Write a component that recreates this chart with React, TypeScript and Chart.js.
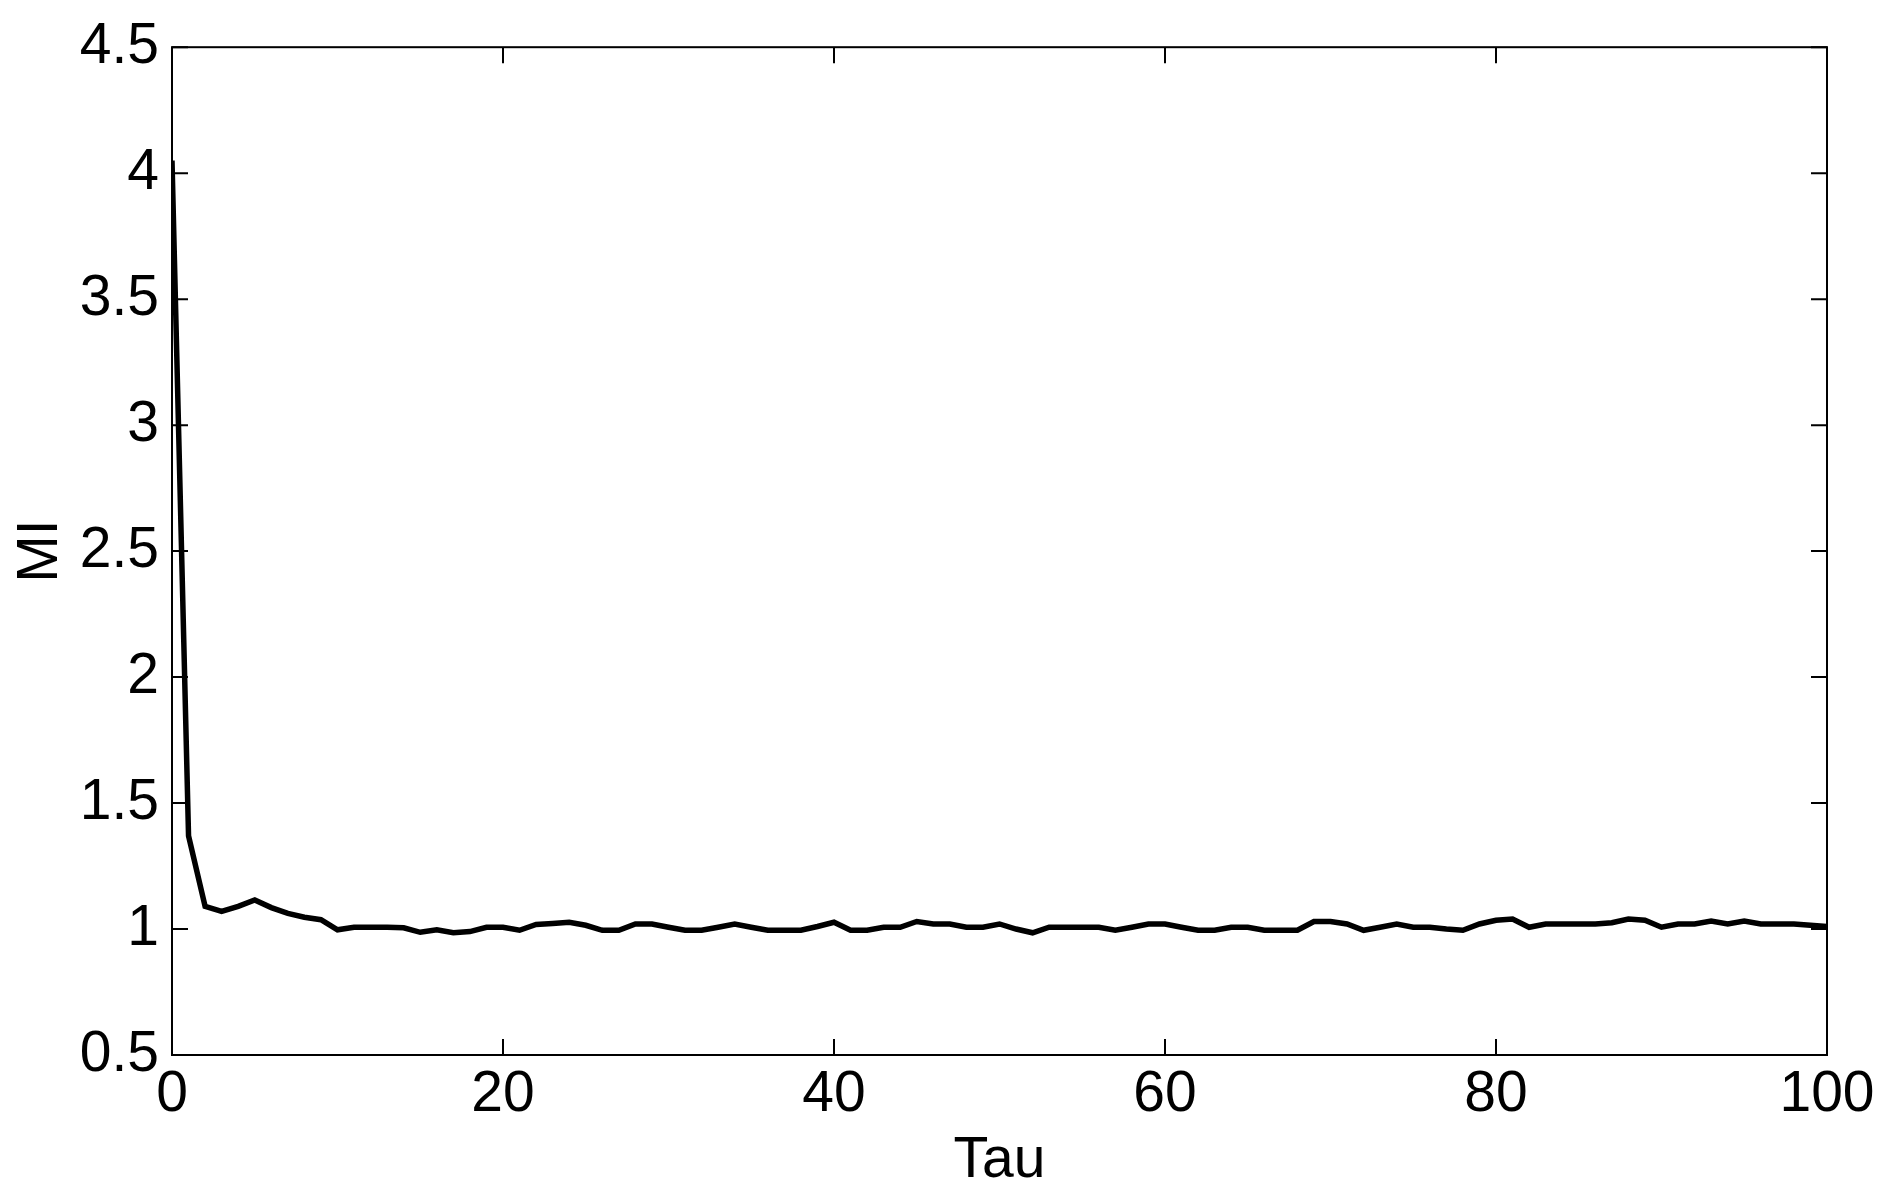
import React, { useEffect, useRef } from "react";
import { Chart, registerables } from "chart.js";

Chart.register(...registerables);

// Lag values (Tau)
const taus: number[] = [
  0, 1, 2, 3, 4, 5, 6, 7, 8, 9,
  10, 11, 12, 13, 14, 15, 16, 17, 18, 19,
  20, 21, 22, 23, 24, 25, 26, 27, 28, 29,
  30, 31, 32, 33, 34, 35, 36, 37, 38, 39,
  40, 41, 42, 43, 44, 45, 46, 47, 48, 49,
  50, 51, 52, 53, 54, 55, 56, 57, 58, 59,
  60, 61, 62, 63, 64, 65, 66, 67, 68, 69,
  70, 71, 72, 73, 74, 75, 76, 77, 78, 79,
  80, 81, 82, 83, 84, 85, 86, 87, 88, 89,
  90, 91, 92, 93, 94, 95, 96, 97, 98, 99,
  100,
];

// Mutual information
const miValues: number[] = [
  4.05, 1.37, 1.09, 1.07, 1.09, 1.115, 1.085, 1.062, 1.047, 1.037,
  0.997, 1.007, 1.007, 1.007, 1.005, 0.987, 0.997, 0.985, 0.99, 1.007,
  1.007, 0.995, 1.018, 1.022, 1.027, 1.015, 0.995, 0.995, 1.02, 1.02,
  1.007, 0.995, 0.995, 1.007, 1.02, 1.007, 0.995, 0.995, 0.995, 1.01,
  1.027, 0.995, 0.995, 1.007, 1.007, 1.03, 1.02, 1.02, 1.007, 1.007,
  1.02, 1.0, 0.985, 1.007, 1.007, 1.007, 1.007, 0.995, 1.007, 1.02,
  1.02, 1.007, 0.995, 0.995, 1.007, 1.007, 0.995, 0.995, 0.995, 1.03,
  1.03, 1.02, 0.995, 1.007, 1.02, 1.007, 1.007, 1.0, 0.995, 1.02,
  1.035, 1.04, 1.007, 1.02, 1.02, 1.02, 1.02, 1.025, 1.04, 1.035,
  1.007, 1.02, 1.02, 1.032, 1.02, 1.032, 1.02, 1.02, 1.02, 1.015,
  1.01,
];

const xTickValues: number[] = [0, 20, 40, 60, 80, 100];
const yTickValues: number[] = [0.5, 1, 1.5, 2, 2.5, 3, 3.5, 4, 4.5];
const xTitle = "Tau";
const yTitle = "MI";

const FONT_FAMILY = "'Liberation Sans', Arial, Helvetica, sans-serif";

const framePlugin = {
  id: "matlabFrame",
  beforeDatasetsDraw(chart: any) {
    const { ctx, chartArea, scales } = chart;
    const { left, right, top, bottom } = chartArea;
    const L = 16;
    ctx.save();
    ctx.strokeStyle = "#000";
    ctx.lineWidth = 2;
    ctx.strokeRect(left, top, right - left, bottom - top);
    ctx.beginPath();
    xTickValues.forEach((v) => {
      const px = scales.x.getPixelForValue(v);
      ctx.moveTo(px, bottom);
      ctx.lineTo(px, bottom - L);
      ctx.moveTo(px, top);
      ctx.lineTo(px, top + L);
    });
    yTickValues.forEach((v) => {
      const py = scales.y.getPixelForValue(v);
      ctx.moveTo(left, py);
      ctx.lineTo(left + L, py);
      ctx.moveTo(right, py);
      ctx.lineTo(right - L, py);
    });
    ctx.stroke();
    ctx.restore();
  },
};

export default function App() {
  const canvasRef = useRef<HTMLCanvasElement | null>(null);

  useEffect(() => {
    const canvas = canvasRef.current;
    if (!canvas) return;
    const chart = new Chart(canvas, {
      type: "line",
      data: {
        datasets: [
          {
            data: taus.map((t, i) => ({ x: t, y: miValues[i] })),
            borderColor: "#000",
            borderWidth: 5.5,
            pointRadius: 0,
            tension: 0,
            fill: false,
          },
        ],
      },
      options: {
        animation: false,
        responsive: false,
        maintainAspectRatio: false,
        events: [],
        layout: { padding: { top: 43, right: 59, left: 0, bottom: 0 } },
        plugins: {
          legend: { display: false },
          tooltip: { enabled: false },
        },
        scales: {
          x: {
            type: "linear",
            min: 0,
            max: 100,
            grid: { display: false, drawTicks: false },
            border: { display: false },
            afterBuildTicks: (scale: any) => {
              scale.ticks = xTickValues.map((v) => ({ value: v }));
            },
            afterFit: (scale: any) => {
              scale.height = 147;
            },
            ticks: {
              autoSkip: false,
              maxRotation: 0,
              padding: 6,
              color: "#000",
              font: { family: FONT_FAMILY, size: 57 },
              callback: (v: any) => String(v),
            },
            title: {
              display: true,
              text: xTitle,
              color: "#000",
              font: { family: FONT_FAMILY, size: 57 },
              padding: { top: 0, bottom: 7 },
            },
          },
          y: {
            type: "linear",
            min: 0.5,
            max: 4.5,
            grid: { display: false, drawTicks: false },
            border: { display: false },
            afterBuildTicks: (scale: any) => {
              scale.ticks = yTickValues.map((v) => ({ value: v }));
            },
            afterFit: (scale: any) => {
              scale.width = 172;
            },
            ticks: {
              autoSkip: false,
              padding: 13,
              color: "#000",
              font: { family: FONT_FAMILY, size: 57 },
              callback: (v: any) => String(v),
            },
            title: {
              display: true,
              text: yTitle,
              color: "#000",
              font: { family: FONT_FAMILY, size: 57 },
              padding: { top: 7, bottom: 0 },
            },
          },
        },
      },
      plugins: [framePlugin],
    });
    return () => chart.destroy();
  }, []);

  return (
    <div
      style={{
        position: "absolute",
        left: 0,
        top: 0,
        width: 1886,
        height: 1202,
        background: "#fff",
      }}
    >
      <canvas ref={canvasRef} width={1886} height={1202} />
    </div>
  );
}
